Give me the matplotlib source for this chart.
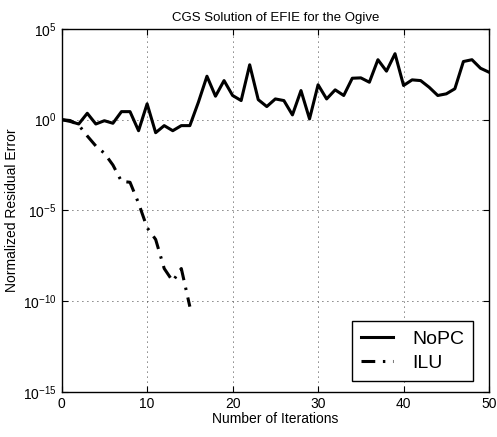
import matplotlib as mpl
mpl.use("Agg")
import matplotlib.pyplot as plt
import numpy as np

mpl.rcParams.update({
    "font.family": "sans-serif",
    "font.sans-serif": ["Liberation Sans", "DejaVu Sans"],
    "mathtext.fontset": "custom",
    "mathtext.rm": "Liberation Sans",
    "mathtext.it": "Liberation Sans:italic",
    "font.size": 10,
    "axes.linewidth": 1.0,
})

# log10 of normalized residual error
iters_nopc = list(range(0, 51))
log_nopc = [0.0, -0.1, -0.24, 0.35, -0.24, -0.06, -0.2, 0.44, 0.44, -0.61,
            0.87, -0.72, -0.33, -0.61, -0.33, -0.33, 0.96, 2.39, 1.29, 2.15,
            1.33, 1.05, 3.02, 1.1, 0.72, 1.14, 1.05, 0.26, 1.6, 0.04,
            1.92, 1.14, 1.64, 1.33, 2.28, 2.3, 2.06, 3.3, 2.67, 3.63,
            1.88, 2.19, 2.15, 1.78, 1.33, 1.42, 1.7, 3.2, 3.3, 2.83, 2.61]

iters_ilu = list(range(0, 16))
log_ilu = [0.0, -0.05, -0.3, -0.9, -1.45, -1.85, -2.5, -3.4, -3.45, -4.6,
           -5.95, -6.6, -8.2, -8.9, -8.2, -10.3]

fig = plt.figure(figsize=(4.97, 4.37), dpi=100)
ax = fig.add_axes([0.124, 0.103, 0.86, 0.831])

ax.semilogy(iters_nopc, 10.0 ** np.array(log_nopc), color="black", lw=2.2,
            label="NoPC")
ax.semilogy(iters_ilu, 10.0 ** np.array(log_ilu), color="black", lw=2.2,
            linestyle=(0, (4.5, 2.5, 0.8, 2.5)), label="ILU")

ax.set_xlim(0, 50)
ax.set_ylim(1e-15, 1e5)
ax.set_xticks([0, 10, 20, 30, 40, 50])
ax.set_yticks([1e-15, 1e-10, 1e-5, 1e0, 1e5])
ax.yaxis.set_minor_locator(mpl.ticker.NullLocator())
ax.tick_params(direction="in", top=True, right=True, length=4, labelsize=10)
ax.grid(True, linestyle=(0, (1, 5)), color="black", lw=0.6)

ax.set_title("CGS Solution of EFIE for the Ogive", fontsize=9.5, pad=6)
ax.set_xlabel("Number of Iterations", fontsize=10, labelpad=1)
ax.set_ylabel("Normalized Residual Error", fontsize=10, labelpad=3)

leg = ax.legend(loc="lower right", bbox_to_anchor=(0.963, 0.031),
                fontsize=14, frameon=True, fancybox=False, edgecolor="black",
                framealpha=1, handlelength=1.65, handletextpad=1.0,
                borderpad=0.45, labelspacing=0.35, borderaxespad=0)
leg.get_frame().set_linewidth(1.0)

fig.savefig("out.png", dpi=100)
